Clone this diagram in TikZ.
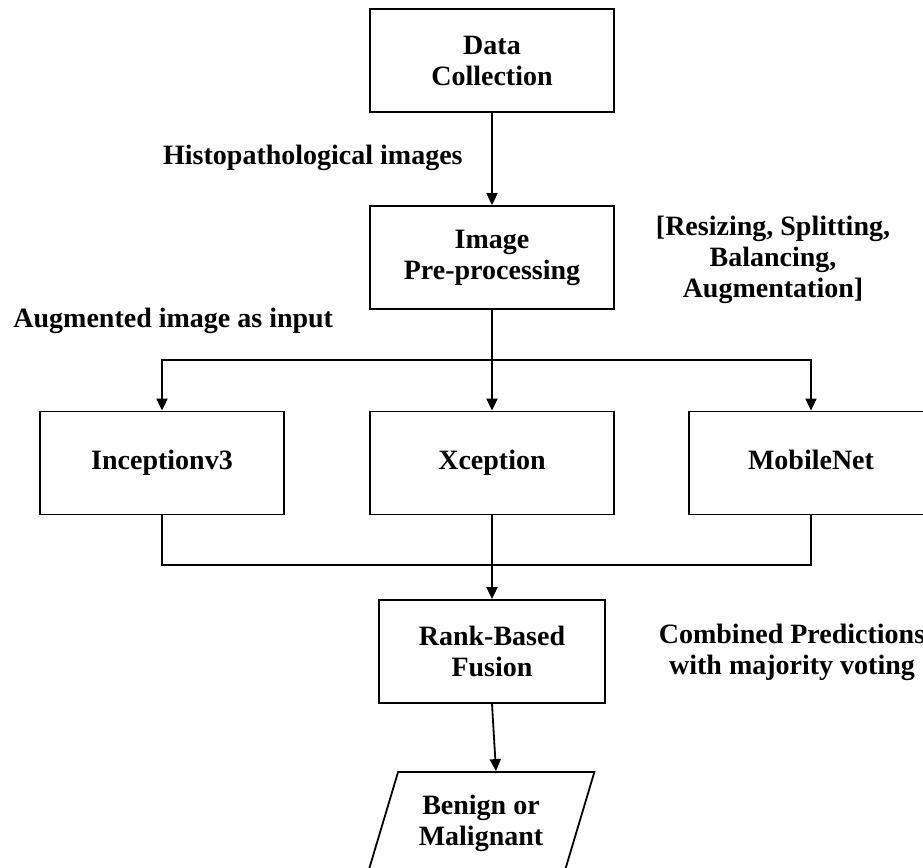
\documentclass[tikz,border=0pt]{standalone}
\usepackage{fontspec}
\setmainfont{Liberation Serif}
\usetikzlibrary{arrows.meta,shapes.geometric}

\begin{document}
\begin{tikzpicture}[x=0.5pt,y=-0.5pt,
    font=\fontsize{14}{15.5}\selectfont\bfseries,
    box/.style={draw,line width=0.9pt,minimum width=122pt,minimum height=51.5pt,
      align=center,inner sep=0pt},
    note/.style={align=center,inner sep=0pt},
    link/.style={line width=0.9pt},
    arr/.style={line width=0.9pt,-{Triangle[length=6pt,width=5.5pt]}}]
  \path[use as bounding box,clip] (0,0) rectangle (923,868);

  \node[box] (data)   at (492,  60.5) {Data\\Collection};
  \node[box] (prep)   at (492, 257.5) {Image\\Pre-processing};
  \node[box] (incep)  at (162, 463  ) {\strut Inceptionv3};
  \node[box] (xcep)   at (492, 463  ) {\strut Xception};
  \node[box] (mobile) at (811, 463  ) {\strut MobileNet};
  \node[box,minimum width=113pt] (rank) at (492, 651.5) {Rank-Based\\Fusion};
  \node[draw,line width=0.9pt,trapezium,trapezium left angle=68,trapezium right angle=112,
    trapezium stretches=true,minimum width=114pt,minimum height=51pt,align=center,
    inner sep=0pt] (out) at (481, 823) {Benign or\\Malignant};

  \node[note,anchor=east] (histo) at (463, 158) {Histopathological images};
  \node[note] (steps) at (773, 260) {[Resizing, Splitting,\\Balancing,\\Augmentation]};
  \node[note,anchor=west] (aug) at (13, 321) {Augmented image as input};
  \node[note] (comb) at (792, 652) {Combined Predictions\\with majority voting};

  \coordinate (split) at (492, 360);
  \coordinate (join)  at (492, 565);

  \draw[arr] (data.south) -- (prep.north);
  \draw[arr] (prep.south) -- (xcep.north);
  \draw[arr] (split) -| (incep.north);
  \draw[arr] (split) -| (mobile.north);

  \draw[link] (incep.south)  |- (join);
  \draw[link] (mobile.south) |- (join);
  \draw[arr] (xcep.south) -- (rank.north);
  \draw[arr] (rank.south) -- ([xshift=7.5pt]out.north);
\end{tikzpicture}
\end{document}
